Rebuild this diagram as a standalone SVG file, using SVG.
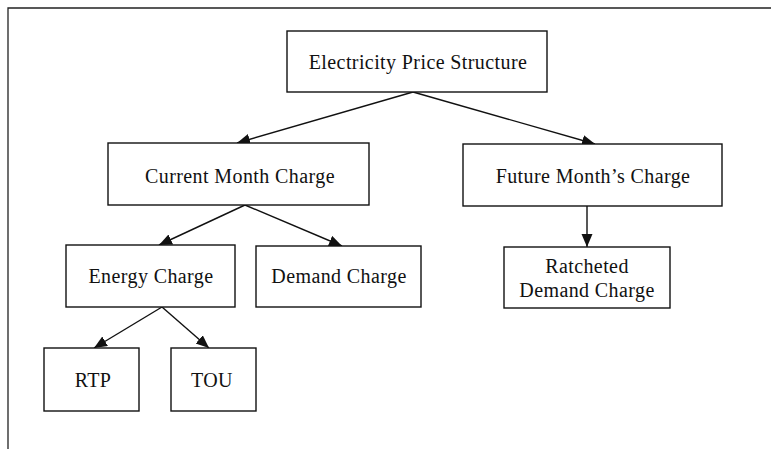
<svg xmlns="http://www.w3.org/2000/svg" width="771" height="449" viewBox="0 0 771 449">
  <style>
    .box { fill: #ffffff; stroke: #111111; stroke-width: 1.4; }
    .lbl { font-family: "Liberation Serif", "Times New Roman", serif; font-size: 20px; letter-spacing: 0.4px; fill: #111111; text-anchor: middle; }
    .edge { stroke: #111111; stroke-width: 1.4; fill: none; marker-end: url(#arrow); }
    .frame { stroke: #222222; stroke-width: 1.3; fill: none; }
  </style>
  <defs>
    <marker id="arrow" markerUnits="userSpaceOnUse" markerWidth="14" markerHeight="12" refX="13" refY="5.5" orient="auto">
      <path d="M0,0 L13,5.5 L0,11 z" fill="#111111"/>
    </marker>
  </defs>
  <rect width="771" height="449" fill="#ffffff"/>

  <!-- outer frame (open on right and bottom) -->
  <path class="frame" d="M8,449 V8 H771"/>

  <!-- connectors -->
  <g id="connectors">
    <line class="edge" x1="413" y1="92" x2="237" y2="143"/>
    <line class="edge" x1="413" y1="92" x2="595" y2="144"/>
    <line class="edge" x1="245" y1="205" x2="159" y2="245"/>
    <line class="edge" x1="245" y1="205" x2="342" y2="246"/>
    <line class="edge" x1="587" y1="206" x2="587" y2="247"/>
    <line class="edge" x1="162" y1="307" x2="94" y2="348"/>
    <line class="edge" x1="162" y1="307" x2="209" y2="348"/>
  </g>

  <g id="electricity-price-structure">
    <rect class="box" x="287" y="31" width="260" height="61"/>
    <text class="lbl" x="418" y="69">Electricity Price Structure</text>
  </g>

  <g id="current-month-charge">
    <rect class="box" x="108" y="143" width="261" height="62"/>
    <text class="lbl" x="240" y="183">Current Month Charge</text>
  </g>

  <g id="future-months-charge">
    <rect class="box" x="463" y="144" width="259" height="62"/>
    <text class="lbl" x="593" y="183">Future Month’s Charge</text>
  </g>

  <g id="energy-charge">
    <rect class="box" x="66" y="245" width="169" height="62"/>
    <text class="lbl" x="151" y="283">Energy Charge</text>
  </g>

  <g id="demand-charge">
    <rect class="box" x="256" y="246" width="165" height="61"/>
    <text class="lbl" x="339" y="283">Demand Charge</text>
  </g>

  <g id="ratcheted-demand-charge">
    <rect class="box" x="504" y="247" width="166" height="61"/>
    <text class="lbl" x="587" y="273">Ratcheted</text>
    <text class="lbl" x="587" y="297">Demand Charge</text>
  </g>

  <g id="rtp">
    <rect class="box" x="44" y="348" width="95" height="63"/>
    <text class="lbl" x="93" y="387">RTP</text>
  </g>

  <g id="tou">
    <rect class="box" x="171" y="348" width="85" height="63"/>
    <text class="lbl" x="212" y="387">TOU</text>
  </g>
</svg>
